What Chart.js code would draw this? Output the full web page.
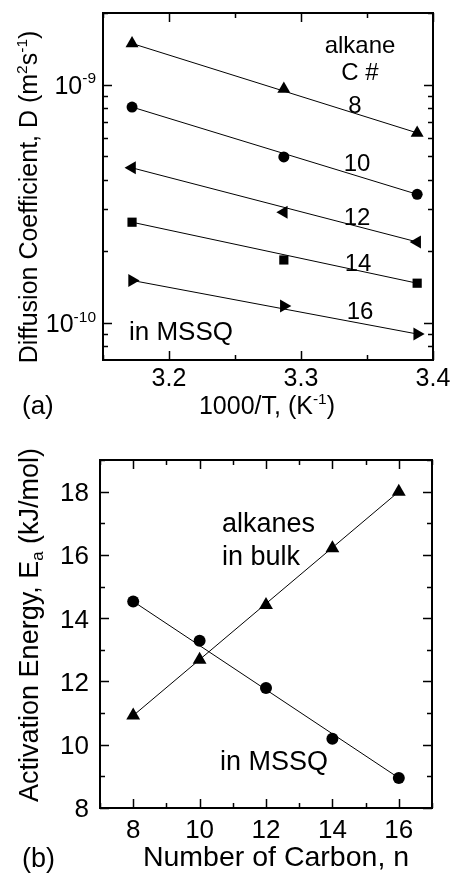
<!DOCTYPE html>
<html>
<head>
<meta charset="utf-8">
<script src="https://cdn.jsdelivr.net/npm/chart.js@4.4.1/dist/chart.umd.min.js"></script>
<style>
  body { margin: 0; background: #fff; }
  canvas { display: block; }
</style>
</head>
<body>
<canvas id="chartA" width="452" height="439"></canvas>
<canvas id="chartB" width="452" height="439"></canvas>
<script>
// (a) 1000/T 값과 알칸별 확산계수
const invT = [3.172, 3.287, 3.388];
const dC8 = [1.49e-9, 9.6e-10, 6.28e-10];
const dC10 = [8.06e-10, 4.98e-10, 3.47e-10];
const dC12 = [4.48e-10, 2.92e-10, 2.19e-10];
const dC14 = [2.65e-10, 1.84e-10, 1.47e-10];
const dC16 = [1.51e-10, 1.18e-10, 9.0e-11];
const alkaneLabels = ['8', '10', '12', '14', '16'];

// (a) 눈금
const xMajorA = [3.2, 3.3, 3.4];
const xMinorA = [3.15, 3.25, 3.35];
const yMajorA = [1e-10, 1e-9];
const yMinorA = [8e-11, 9e-11, 2e-10, 3e-10, 4e-10, 5e-10, 6e-10, 7e-10, 8e-10, 9e-10, 2e-9];
const yLabelsA = [['10', '-10'], ['10', '-9']];

// (b) 탄소 수와 활성화 에너지
const carbonN = [8, 10, 12, 14, 16];
const eaBulk = [10.92, 12.69, 14.42, 16.21, 18.0];
const eaMssq = [14.53, 13.29, 11.79, 10.19, 8.95];

// (b) 눈금
const xMajorB = [8, 10, 12, 14, 16];
const xMinorB = [7, 9, 11, 13, 15, 17];
const yMajorB = [8, 10, 12, 14, 16, 18];
const yMinorB = [9, 11, 13, 15, 17, 19];

const FONT = '"Liberation Sans", Arial, sans-serif';

// 위/아래 첨자가 섞인 텍스트 그리기
function drawRich(ctx, parts, x, y, size, align, rotate) {
    ctx.save();
    ctx.translate(x, y);
    if (rotate) ctx.rotate(-Math.PI / 2);
    const fontOf = p => {
        const s = p[1] ? size * 0.62 : size;
        return `${s}px ${FONT}`;
    };
    let w = 0;
    parts.forEach(p => { ctx.font = fontOf(p); w += ctx.measureText(p[0]).width; });
    let cx = align === 'center' ? -w / 2 : align === 'right' ? -w : 0;
    const base = size * 0.36;
    ctx.fillStyle = '#000';
    ctx.textBaseline = 'alphabetic';
    ctx.textAlign = 'left';
    parts.forEach(p => {
        ctx.font = fontOf(p);
        let dy = base;
        if (p[1] === 1) dy = base - size * 0.42;
        if (p[1] === -1) dy = base + size * 0.2;
        ctx.fillText(p[0], cx, dy);
        cx += ctx.measureText(p[0]).width;
    });
    ctx.restore();
}

// 테두리, 안쪽 눈금, 라벨
const frameTicks = {
    id: 'frameTicks',
    afterDatasetsDraw(chart) {
        const o = chart.config._config.frame;
        const { ctx, chartArea: a } = chart;
        const xs = chart.scales.x, ys = chart.scales.y;
        ctx.save();
        ctx.strokeStyle = '#000';
        ctx.lineWidth = 1.5;
        const xt = (v, len) => {
            const px = Math.round(xs.getPixelForValue(v)) + 0.5;
            ctx.beginPath();
            ctx.moveTo(px, a.bottom); ctx.lineTo(px, a.bottom - len);
            ctx.moveTo(px, a.top); ctx.lineTo(px, a.top + len);
            ctx.stroke();
        };
        const yt = (v, len) => {
            const py = Math.round(ys.getPixelForValue(v)) + 0.5;
            ctx.beginPath();
            ctx.moveTo(a.left, py); ctx.lineTo(a.left + len, py);
            ctx.moveTo(a.right, py); ctx.lineTo(a.right - len, py);
            ctx.stroke();
        };
        o.xMajor.forEach(v => xt(v, 9));
        o.xMinor.forEach(v => xt(v, 5));
        o.yMajor.forEach(v => yt(v, 9));
        o.yMinor.forEach(v => yt(v, 5));
        ctx.lineWidth = 2;
        ctx.strokeRect(a.left, a.top, a.right - a.left, a.bottom - a.top);

        o.xMajor.forEach(v => {
            drawRich(ctx, [[String(v), 0]], xs.getPixelForValue(v), o.xLabelY, o.tickSize, 'center');
        });
        o.yMajor.forEach((v, i) => {
            const parts = o.yLabels ? [[o.yLabels[i][0], 0], [o.yLabels[i][1], 1]] : [[String(v), 0]];
            drawRich(ctx, parts, o.yLabelX, ys.getPixelForValue(v), o.tickSize, 'right');
        });
        o.texts.forEach(t => drawRich(ctx, t.parts, t.x, t.y, t.size, t.align || 'left', t.rotate));
        ctx.restore();
    }
};

function baseOptions(xMin, xMax, yType, yMin, yMax, padding) {
    return {
        responsive: false,
        animation: false,
        events: [],
        layout: { padding },
        plugins: { legend: { display: false }, tooltip: { enabled: false } },
        scales: {
            x: { type: 'linear', min: xMin, max: xMax, display: false },
            y: { type: yType, min: yMin, max: yMax, display: false }
        }
    };
}

function markerSet(xv, yv, style, rot, r) {
    return {
        data: xv.map((x, i) => ({ x, y: yv[i] })),
        showLine: false,
        pointStyle: style,
        pointRotation: rot,
        pointRadius: r,
        backgroundColor: '#000',
        borderColor: '#000',
        borderWidth: 0
    };
}

function fitLine(xv, yv) {
    const last = xv.length - 1;
    return {
        data: [{ x: xv[0], y: yv[0] }, { x: xv[last], y: yv[last] }],
        showLine: true,
        pointRadius: 0,
        borderColor: '#000',
        borderWidth: 1
    };
}

// (a) 차트
new Chart(document.getElementById('chartA'), {
    type: 'scatter',
    plugins: [frameTicks],
    data: {
        datasets: [
            markerSet(invT, dC8, 'triangle', 0, 7.5),
            markerSet(invT, dC10, 'circle', 0, 5.5),
            markerSet(invT, dC12, 'triangle', -90, 7.5),
            markerSet(invT, dC14, 'rect', 0, 6.5),
            markerSet(invT, dC16, 'triangle', 90, 7.5),
            fitLine(invT, dC8), fitLine(invT, dC10), fitLine(invT, dC12),
            fitLine(invT, dC14), fitLine(invT, dC16)
        ]
    },
    options: baseOptions(3.15, 3.4, 'logarithmic', 7e-11, 2e-9,
        { left: 103, right: 19, top: 13, bottom: 79 }),
    frame: {
        xMajor: xMajorA, xMinor: xMinorA, yMajor: yMajorA, yMinor: yMinorA,
        yLabels: yLabelsA, xLabelY: 377, yLabelX: 96, tickSize: 25,
        texts: [
            { parts: [['alkane', 0]], x: 360, y: 44, size: 24, align: 'center' },
            { parts: [['C #', 0]], x: 360, y: 71, size: 24, align: 'center' },
            { parts: [[alkaneLabels[0], 0]], x: 355, y: 104, size: 24, align: 'center' },
            { parts: [[alkaneLabels[1], 0]], x: 357, y: 162, size: 24, align: 'center' },
            { parts: [[alkaneLabels[2], 0]], x: 357, y: 216, size: 24, align: 'center' },
            { parts: [[alkaneLabels[3], 0]], x: 358, y: 262, size: 24, align: 'center' },
            { parts: [[alkaneLabels[4], 0]], x: 360, y: 310, size: 24, align: 'center' },
            { parts: [['in MSSQ', 0]], x: 129, y: 331, size: 26 },
            { parts: [['(a)', 0]], x: 22, y: 405, size: 26 },
            { parts: [['1000/T, (K', 0], ['-1', 1], [')', 0]], x: 267, y: 405, size: 25, align: 'center' },
            { parts: [['Diffusion Coefficient, D (m', 0], ['2', 1], ['s', 0], ['-1', 1], [')', 0]],
              x: 28, y: 197, size: 25, align: 'center', rotate: true }
        ]
    }
});

// (b) 차트
new Chart(document.getElementById('chartB'), {
    type: 'scatter',
    plugins: [frameTicks],
    data: {
        datasets: [
            markerSet(carbonN, eaBulk, 'triangle', 0, 8),
            markerSet(carbonN, eaMssq, 'circle', 0, 6),
            fitLine(carbonN, eaBulk),
            fitLine(carbonN, eaMssq)
        ]
    },
    options: baseOptions(7, 17, 'linear', 8, 19,
        { left: 100, right: 20, top: 21, bottom: 70 }),
    frame: {
        xMajor: xMajorB, xMinor: xMinorB, yMajor: yMajorB, yMinor: yMinorB,
        xLabelY: 390, yLabelX: 89, tickSize: 26,
        texts: [
            { parts: [['alkanes', 0]], x: 222, y: 83, size: 27 },
            { parts: [['in bulk', 0]], x: 222, y: 116, size: 27 },
            { parts: [['in MSSQ', 0]], x: 220, y: 321, size: 27 },
            { parts: [['(b)', 0]], x: 22, y: 418, size: 27 },
            { parts: [['Number of Carbon, n', 0]], x: 276, y: 417, size: 28.5, align: 'center' },
            { parts: [['Activation Energy, E', 0], ['a', -1], [' (kJ/mol)', 0]],
              x: 28, y: 186, size: 27, align: 'center', rotate: true }
        ]
    }
});
</script>
</body>
</html>
